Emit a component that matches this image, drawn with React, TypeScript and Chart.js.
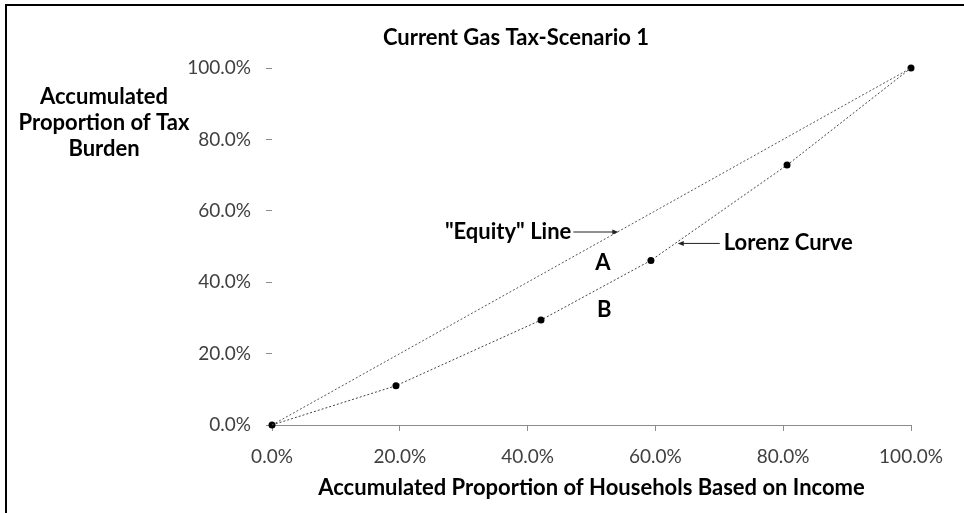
import React, { useEffect, useRef } from "react";
import { Chart, registerables } from "chart.js";

Chart.register(...registerables);

const TITLE = "Current Gas Tax-Scenario 1";
const Y_TITLE_LINES = ["Accumulated", "Proportion of Tax", "Burden"];
const X_TITLE = "Accumulated Proportion of Househols Based on Income";

const equityX = [0, 100];
const equityY = [0, 100];
const lorenzX = [0, 19.4, 42.1, 59.3, 80.6, 100];
const lorenzY = [0, 11.0, 29.4, 46.1, 72.8, 100];

const EQUITY_LABEL = "\"Equity\" Line";
const LORENZ_LABEL = "Lorenz Curve";
const equityArrowAt = [54.2, 54.2];
const lorenzArrowAt = [63.5, 51.0];
const labelA = ["A", 51.8, 45.4];
const labelB = ["B", 52.0, 32.2];

const FONT = "Lato, 'Open Sans', sans-serif";
const TICK_COLOR = "#404040";

function arrowHead(ctx: CanvasRenderingContext2D, x: number, y: number, dir: number) {
  ctx.beginPath();
  ctx.moveTo(x, y);
  ctx.lineTo(x - dir * 6, y - 2.5);
  ctx.lineTo(x - dir * 6, y + 2.5);
  ctx.closePath();
  ctx.fill();
}

const overlay = {
  id: "overlay",
  afterDraw(chart: any) {
    const ctx = chart.ctx as CanvasRenderingContext2D;
    const xs = chart.scales.x;
    const ys = chart.scales.y;
    ctx.save();
    // frame (top and left)
    ctx.fillStyle = "#000";
    ctx.fillRect(5, 4, 959, 2);
    ctx.fillRect(5, 4, 2, 509);

    // title
    ctx.fillStyle = "#000";
    ctx.font = `bold 22px ${FONT}`;
    ctx.textAlign = "center";
    ctx.textBaseline = "middle";
    ctx.fillText(TITLE, 516, 38);

    // y title
    ctx.font = `bold 22px ${FONT}`;
    Y_TITLE_LINES.forEach((t, i) => ctx.fillText(t, 104, 97 + i * 26));

    // equity annotation
    const ex = xs.getPixelForValue(equityArrowAt[0]);
    const ey = ys.getPixelForValue(equityArrowAt[1]);
    ctx.textAlign = "right";
    ctx.fillText(EQUITY_LABEL, ex - 47, ey);
    ctx.strokeStyle = "#222";
    ctx.lineWidth = 1;
    ctx.beginPath();
    ctx.moveTo(ex - 45, ey + 0.5);
    ctx.lineTo(ex - 2, ey + 0.5);
    ctx.stroke();
    ctx.fillStyle = "#222";
    arrowHead(ctx, ex, ey + 0.5, 1);

    // lorenz annotation
    const lx = xs.getPixelForValue(lorenzArrowAt[0]);
    const ly = ys.getPixelForValue(lorenzArrowAt[1]);
    ctx.beginPath();
    ctx.moveTo(lx + 2, ly + 0.5);
    ctx.lineTo(lx + 42, ly + 0.5);
    ctx.stroke();
    arrowHead(ctx, lx, ly + 0.5, -1);
    ctx.fillStyle = "#000";
    ctx.textAlign = "left";
    ctx.fillText(LORENZ_LABEL, lx + 46, ly);

    // A, B
    ctx.textAlign = "center";
    [labelA, labelB].forEach((l: any) => {
      ctx.fillText(l[0], xs.getPixelForValue(l[1]), ys.getPixelForValue(l[2]));
    });
    ctx.restore();
  },
};

export default function App() {
  const ref = useRef<HTMLCanvasElement>(null);
  useEffect(() => {
    document.body.style.margin = "0";
    const chart = new Chart(ref.current!, {
      type: "scatter",
      data: {
        datasets: [
          {
            label: "Equity",
            data: equityX.map((x, i) => ({ x, y: equityY[i] })),
            showLine: true,
            borderColor: "#555",
            borderWidth: 1,
            borderDash: [2, 2],
            pointRadius: 0,
            clip: false,
          },
          {
            label: "Lorenz",
            data: lorenzX.map((x, i) => ({ x, y: lorenzY[i] })),
            showLine: true,
            borderColor: "#444",
            borderWidth: 1,
            borderDash: [2, 2],
            pointRadius: 3.5,
            pointBackgroundColor: "#000",
            pointBorderColor: "#000",
            pointBorderWidth: 0,
            clip: false,
          },
        ],
      },
      options: {
        animation: false,
        responsive: false,
        maintainAspectRatio: false,
        layout: { padding: { left: 0, top: 68, right: 53, bottom: 0 } },
        plugins: { legend: { display: false }, tooltip: { enabled: false }, title: { display: false } },
        scales: {
          x: {
            type: "linear",
            min: 0,
            max: 100,
            afterFit: (s: any) => { s.height = 88; },
            border: { display: true, color: "#8c8c8c", width: 1 },
            grid: { display: true, drawOnChartArea: false, drawTicks: true, tickLength: 6, color: "#8c8c8c" },
            ticks: {
              stepSize: 20,
              padding: 14,
              color: TICK_COLOR,
              font: { family: FONT, size: 19 },
              callback: (v: any) => Number(v).toFixed(1) + "%",
              maxRotation: 0,
            },
            title: {
              display: true,
              text: X_TITLE,
              color: "#000",
              font: { family: FONT, size: 22, weight: "bold" },
              padding: { top: 0, bottom: 12 },
            },
          },
          y: {
            type: "linear",
            min: 0,
            max: 100,
            afterFit: (s: any) => { s.width = 272; },
            border: { display: false },
            grid: { display: true, drawOnChartArea: false, drawTicks: true, tickLength: 6, color: "#8c8c8c" },
            ticks: {
              stepSize: 20,
              padding: 15,
              color: TICK_COLOR,
              font: { family: FONT, size: 19 },
              callback: (v: any) => Number(v).toFixed(1) + "%",
            },
          },
        },
      },
      plugins: [overlay],
    });
    return () => chart.destroy();
  }, []);
  return (
    <div style={{ position: "fixed", left: 0, top: 0, width: 964, height: 513, background: "#fff" }}>
      <canvas ref={ref} width={964} height={513} style={{ width: 964, height: 513 }} />
    </div>
  );
}
